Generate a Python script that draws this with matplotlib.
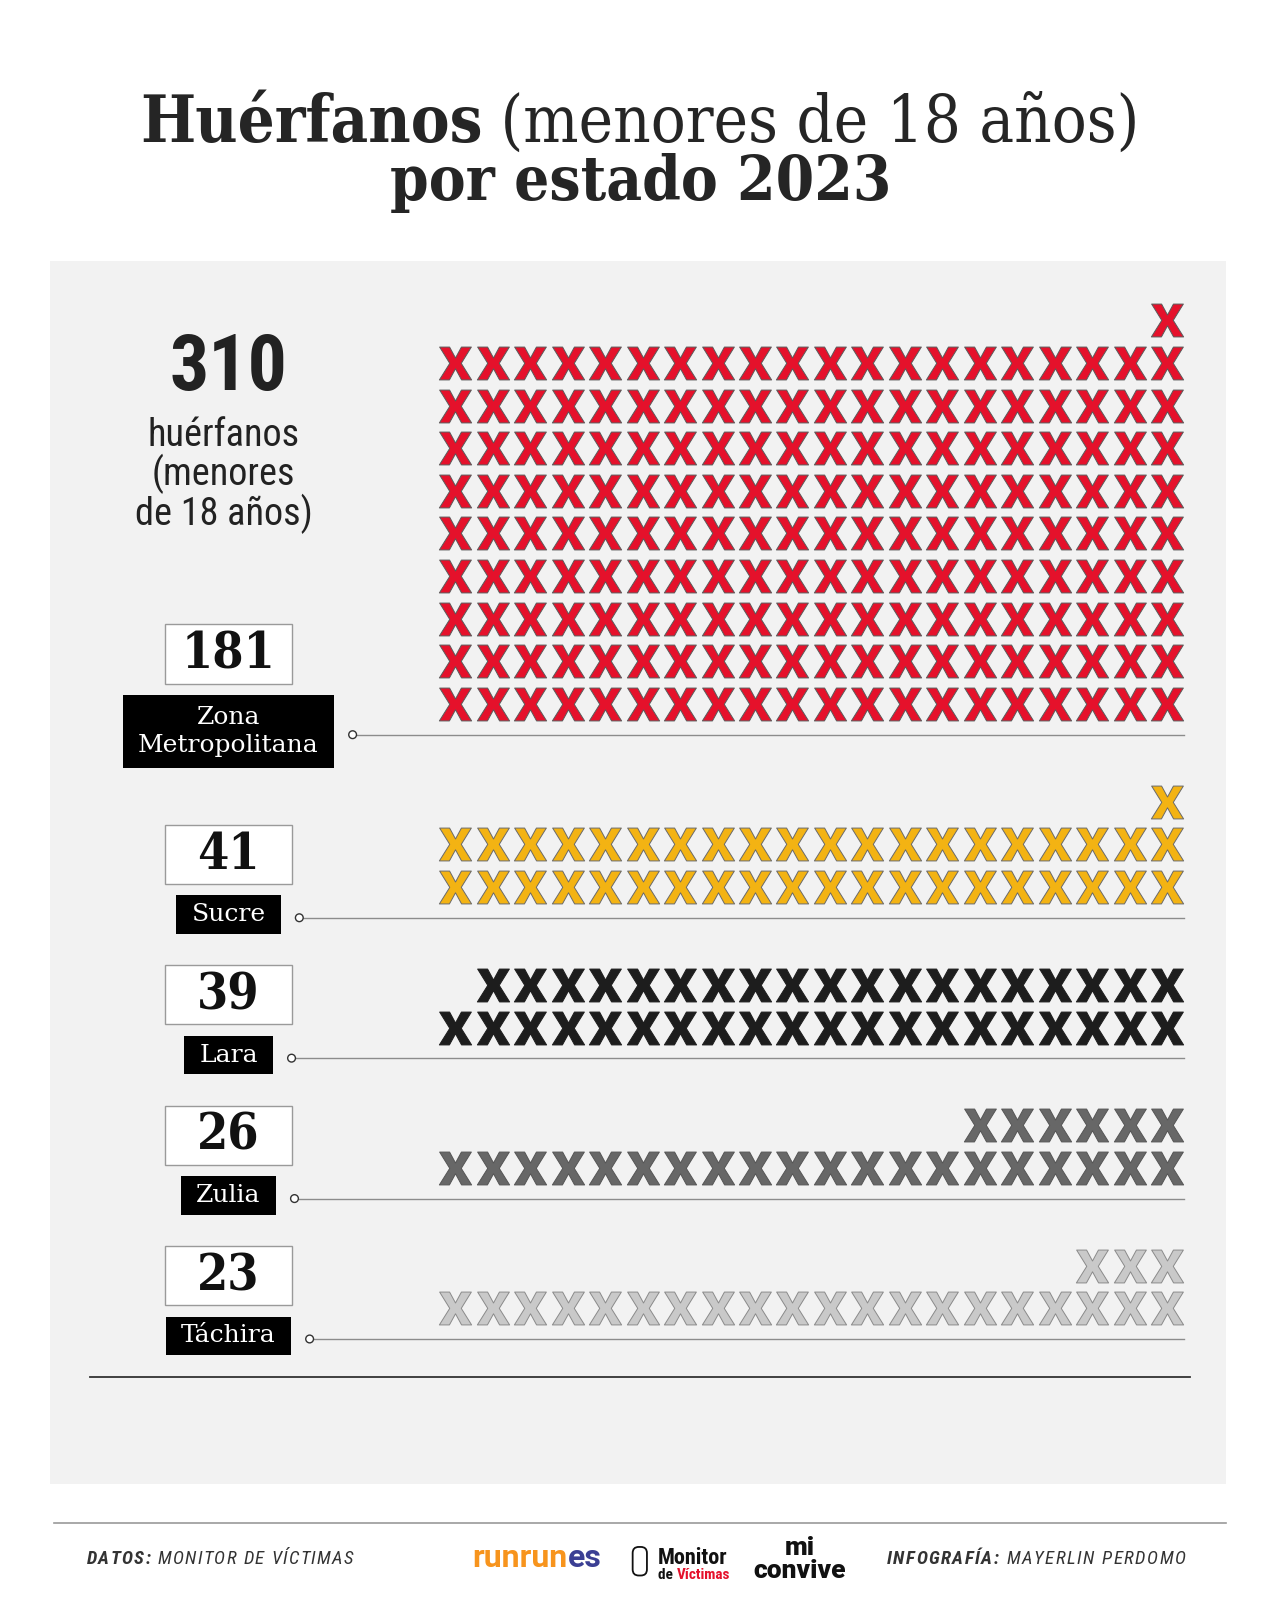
import matplotlib
matplotlib.use("Agg")
import matplotlib.pyplot as plt
from matplotlib.patches import Rectangle, Circle, FancyBboxPatch
from matplotlib.textpath import TextPath
from matplotlib.font_manager import FontProperties, fontManager
from matplotlib.path import Path

# datos
states = ["Zona\nMetropolitana", "Sucre", "Lara", "Zulia", "Táchira"]
counts = [181, 41, 39, 26, 23]
icon_colors = ["#e5112b", "#f3b313", "#1d1d1d", "#676767", "#c9c9c9"]
edge_colors = ["#5a5a5a", "#6a6a6a", "#1d1d1d", "#555555", "#8a8a8a"]
total = 310
per_row = 20

names = {f.name for f in fontManager.ttflist}
slab = "Roboto Slab" if "Roboto Slab" in names else "DejaVu Serif"
has_cond = any(f.name == slab and f.stretch in ("condensed", 300) for f in fontManager.ttflist)
slab_stretch = "condensed" if has_cond else "normal"
if "Roboto Condensed" in names:
    narrow = "Roboto Condensed"
elif "Liberation Sans Narrow" in names:
    narrow = "Liberation Sans Narrow"
else:
    narrow = "Roboto"

S = 0.98  # unidades de datos por pixel real
fig = plt.figure(figsize=(12.8, 16), dpi=100)
fig.patch.set_facecolor("white")
ax = fig.add_axes([0, 0, 1, 1])
ax.set_xlim(0, 1280 * S)
ax.set_ylim(1600 * S, 0)
ax.axis("off")
renderer = fig.canvas.get_renderer()


def width_of(t):
    return t.get_window_extent(renderer).width * S


def put_row(parts, y, cx=None, x0=None, **kw):
    # parts: list of (texto, props) puestos uno detras de otro
    objs = [ax.text(0, y, s, va="baseline", ha="left", **kw, **p) for s, p in parts]
    ws = [width_of(o) for o in objs]
    x = x0 if x0 is not None else cx - sum(ws) / 2
    for o, w in zip(objs, ws):
        o.set_x(x)
        x += w
    return objs


def fitted_row(parts, y, cx, target_w, **kw):
    probe = put_row(parts, y, cx=cx, fontsize=50, **kw)
    w = sum(width_of(o) for o in probe)
    for o in probe:
        o.remove()
    put_row(parts, y, cx=cx, fontsize=min(50 * target_w / w, 50), **kw)


def tracked(parts, y, x0, track, **kw):
    # texto con espaciado entre letras
    x = x0
    for s, p in parts:
        for ch in s:
            if ch == " ":
                x += 4.5 + track
                continue
            t = ax.text(x, y, ch, va="baseline", ha="left", **kw, **p)
            x += width_of(t) + track


# panel gris
ax.add_patch(Rectangle((49, 256), 1152, 1198, fc="#f2f2f2", ec="none", zorder=0))

# titulo
tkw = dict(family=slab, color="#252525", fontstretch=slab_stretch)
fitted_row([("Huérfanos", dict(weight="bold")), (" (menores de 18 años)", {})],
           139, 627, 983, **tkw)
fitted_row([("por estado 2023", dict(weight="bold"))], 196, 628, 492, **tkw)

# total
ax.text(224, 362, str(total), ha="center", va="center", family=narrow,
        weight="bold", fontsize=56, color="#222222")
ax.text(219, 466, "huérfanos\n(menores\nde 18 años)", ha="center", va="center",
        multialignment="center", family=narrow, fontsize=27.5, color="#222222",
        linespacing=1.0)

# icono X
tp = TextPath((0, 0), "X", prop=FontProperties(family="Roboto", weight="heavy"), size=10)
ext = tp.get_extents()
verts = tp.vertices.copy()
verts[:, 0] = (verts[:, 0] - (ext.x0 + ext.x1) / 2) * 1.1
verts[:, 1] = verts[:, 1] - (ext.y0 + ext.y1) / 2
x_marker = Path(verts, tp.codes)

x_first, x_last = 446, 1144
dx = (x_last - x_first) / (per_row - 1)
row_h = 41.8
gap = 54
line_y = 720

for g, (name, n) in enumerate(zip(states, counts)):
    nrows = -(-n // per_row)
    if g > 0:
        line_y = line_y + nrows * row_h + gap
    xs, ys = [], []
    for i in range(n):
        r = i // per_row
        in_row = min(per_row, n - r * per_row)
        c = per_row - in_row + (i % per_row)
        xs.append(x_first + c * dx)
        ys.append(line_y - 30 - r * row_h)
    ax.scatter(xs, ys, marker=x_marker, s=560, c=icon_colors[g],
               edgecolors=edge_colors[g], linewidths=0.7, zorder=3)

    # etiqueta negra
    lab = ax.text(224, line_y - 3, name, ha="center", va="center", family=slab,
                  fontsize=18, color="white", multialignment="center",
                  linespacing=1.3, zorder=5)
    bb = lab.get_window_extent(renderer)
    n_lines = name.count("\n") + 1
    box_h = 38 if n_lines == 1 else 72
    box_w = bb.width * S + 30
    bx0 = 224 - box_w / 2
    by0 = line_y - 3 - box_h / 2
    ax.add_patch(Rectangle((bx0, by0), box_w, box_h, fc="black", ec="none", zorder=4))

    # caja del numero
    nb_h = 58
    nb_top = by0 - 11 - nb_h
    ax.add_patch(Rectangle((162, nb_top), 124, nb_h, fc="white", ec="#9a9a9a",
                           lw=1, zorder=4))
    ax.text(224, nb_top + nb_h / 2 + 1, str(n), ha="center", va="center", family=slab,
            weight="bold", fontstretch=slab_stretch, fontsize=36, color="#111111",
            zorder=5)

    # linea guia
    dot_x = bx0 + box_w + 18
    ax.plot([dot_x + 4, 1160], [line_y, line_y], color="#8c8c8c", lw=1, zorder=2)
    ax.add_patch(Circle((dot_x, line_y), 3.8, fc="white", ec="#333333", lw=1, zorder=3))

# linea inferior del panel
ax.plot([88, 1166], [1349, 1349], color="#333333", lw=1.3, zorder=2)

# pie
ax.plot([53, 1201], [1493, 1493], color="#9a9a9a", lw=1.2)
foot = dict(family=narrow, fontsize=13.5, color="#333333", style="italic")
tracked([("DATOS:", dict(weight="bold")), (" MONITOR DE VÍCTIMAS", {})],
        1533, 85, 1.3, **foot)
tracked([("INFOGRAFÍA:", dict(weight="bold")), (" MAYERLIN PERDOMO", {})],
        1533, 869, 1.5, **foot)

put_row([("runrun", dict(color="#f7941d")), ("es", dict(color="#3b3f94"))],
        1536, x0=463, family="Roboto", weight="bold", fontsize=23)
ax.text(645, 1533, "Monitor", family=narrow, weight="bold", fontsize=16,
        color="#111111", va="baseline", ha="left")
put_row([("de ", dict(color="#111111")), ("Víctimas", dict(color="#e5112b"))],
        1547, x0=645, family=narrow, weight="bold", fontsize=11)
ax.add_patch(FancyBboxPatch((620, 1516), 14, 28, boxstyle="round,pad=0,rounding_size=6",
                            fc="none", ec="#111111", lw=1.3))
ax.text(784, 1524, "mi", family="Roboto", weight="black", fontsize=19,
        color="#111111", ha="center", va="baseline")
ax.text(784, 1546, "convive", family="Roboto", weight="black", fontsize=19,
        color="#111111", ha="center", va="baseline")

fig.savefig("out.png", dpi=100, facecolor="white")
